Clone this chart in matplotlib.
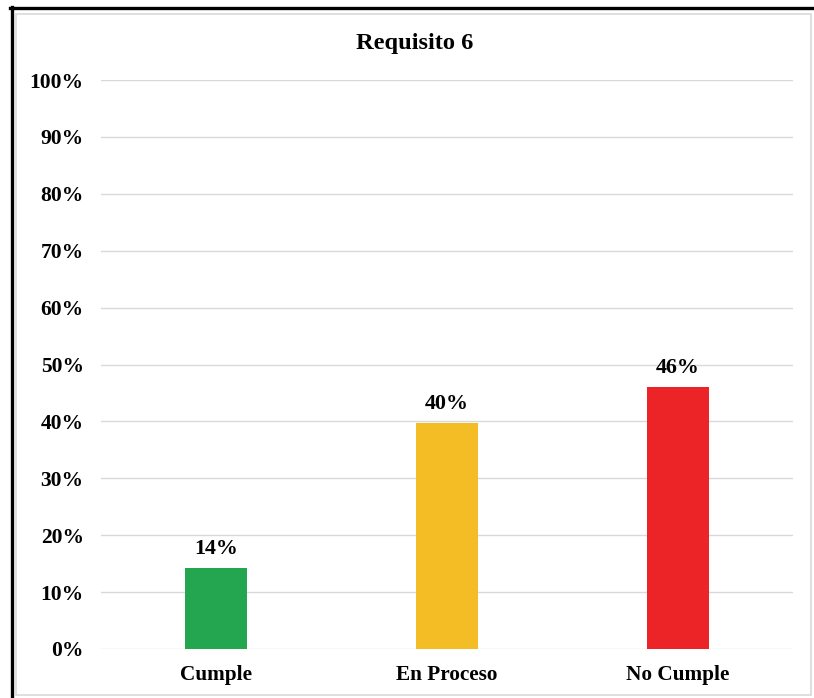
import matplotlib.pyplot as plt
from matplotlib.patches import Rectangle
from matplotlib.lines import Line2D

plt.rcParams['font.family'] = ['Liberation Serif', 'DejaVu Serif']
plt.rcParams['font.weight'] = 'bold'

# data
categories = ['Cumple', 'En Proceso', 'No Cumple']
values = [14.3, 39.7, 46.0]
labels = ['14%', '40%', '46%']
colors = ['#23A64F', '#F4BC25', '#EC2427']
yticks = list(range(0, 101, 10))

W, H = 814, 698
fig = plt.figure(figsize=(W / 100, H / 100), dpi=100)

# outer black frame (left and top only visible) and light inner border
fig.add_artist(Line2D([11.5 / W, 11.5 / W], [0, 1 - 7 / H], color='black', lw=2.4))
fig.add_artist(Line2D([10 / W, 1], [1 - 8 / H, 1 - 8 / H], color='black', lw=2.4))
fig.add_artist(Rectangle((16 / W, 1 - 695 / H), (811 - 16) / W, (695 - 14) / H,
                         fill=False, edgecolor='#D9D9D9', lw=1.2))

ax = fig.add_axes([101 / W, 1 - 649 / H, (793 - 101) / W, (649 - 80) / H])
x = range(len(categories))
ax.bar(x, values, width=0.27, color=colors, zorder=3)
for xi, v, lab in zip(x, values, labels):
    ax.annotate(lab, (xi, v), xytext=(0, 6.5), textcoords='offset points',
                ha='center', va='bottom', fontsize=15.8, fontweight='bold')

ax.set_xlim(-0.5, 2.5)
ax.set_ylim(0, 100)
ax.set_yticks(yticks)
ax.set_yticklabels([f'{t}%' for t in yticks], fontsize=15.5, fontweight='bold')
ax.set_xticks(list(x))
ax.set_xticklabels(categories, fontsize=15.3, fontweight='bold')
ax.tick_params(axis='y', length=0, pad=12.5)
ax.tick_params(axis='x', length=0, pad=11.5)
ax.grid(axis='y', color='#D9D9D9', lw=1, zorder=0)
for s in ax.spines.values():
    s.set_visible(False)

fig.text(415 / W, 1 - 44 / H, 'Requisito 6', ha='center', va='center',
         fontsize=17.6, fontweight='bold')

fig.savefig('out.png', dpi=100)
